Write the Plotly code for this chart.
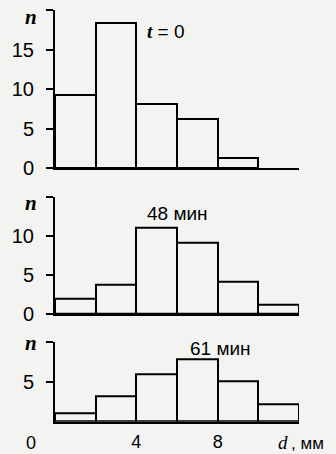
import plotly.graph_objects as go

# Data
bin_centers = [1, 3, 5, 7, 9, 11]
n_t0 = [9.2, 18.3, 8.1, 6.2, 1.3]
n_48 = [2.0, 3.8, 11.1, 9.1, 4.1, 1.25]
n_61 = [1.05, 3.2, 6.0, 7.9, 5.1, 2.2]
labels = ["t = 0", "48 мин", "61 мин"]
x_ticks = [4, 8]

BG = "#f3f3f1"
W, H = 336, 454

def py(px):
    return 1 - px / H

fig = go.Figure()
series = [n_t0, n_48, n_61]
for i, vals in enumerate(series):
    fig.add_trace(go.Bar(
        x=bin_centers[:len(vals)], y=vals, width=2,
        marker=dict(color=BG, line=dict(color="black", width=2)),
        xaxis="x" if i == 0 else f"x{i+1}",
        yaxis="y" if i == 0 else f"y{i+1}",
        showlegend=False, hoverinfo="skip",
    ))

xdom = [55 / W, 299 / W]
ydoms = [[py(168.3), py(10)], [py(314), py(196.7)], [py(421.7), py(342.3)]]
yranges = [20, 15, 10]
ytick_sets = [
    ([0, 5, 10, 15, 20], ["0", "5", "10", "15", ""]),
    ([0, 5, 10, 15], ["0", "5", "10", ""]),
    ([5, 10], ["5", ""]),
]
font = dict(family="Liberation Sans, Arial", size=20, color="black")
xfont = dict(family="Liberation Sans, Arial", size=18, color="black")

layout = dict(
    width=W, height=H, margin=dict(l=0, r=0, t=0, b=0, autoexpand=False),
    paper_bgcolor=BG, plot_bgcolor=BG, bargap=0, font=font,
)
for i in range(3):
    xk = "xaxis" if i == 0 else f"xaxis{i+1}"
    yk = "yaxis" if i == 0 else f"yaxis{i+1}"
    ya = "y" if i == 0 else f"y{i+1}"
    xa = "x" if i == 0 else f"x{i+1}"
    layout[xk] = dict(
        domain=xdom, range=[0, 12], anchor=ya, showline=True, linecolor="black",
        linewidth=2, showgrid=False, zeroline=False, ticks="",
        tickvals=x_ticks if i == 2 else [], showticklabels=(i == 2),
        tickfont=xfont, ticklabelstandoff=3, automargin=False, fixedrange=True,
    )
    layout[yk] = dict(
        domain=ydoms[i], range=[0, yranges[i]], anchor=xa, showline=True,
        linecolor="black", linewidth=2, showgrid=False, zeroline=False,
        ticks="outside", ticklen=7, tickwidth=2, tickcolor="black",
        tickvals=ytick_sets[i][0], ticktext=ytick_sets[i][1], automargin=False,
        ticklabelstandoff=8, fixedrange=True,
    )
fig.update_layout(**layout)

serif = "Liberation Serif, Times New Roman, serif"
sans = "Liberation Sans, Arial"

def A(x, y, text, f, xanchor="center"):
    return dict(x=x / W, y=py(y), xref="paper", yref="paper", xanchor=xanchor,
                yanchor="middle", showarrow=False, text=text, font=f)

ann = []
for ypx in [17, 203, 343]:
    ann.append(A(31, ypx, "<b><i>n</i></b>", dict(family=serif, size=21, color="black")))
ann.append(A(145, 32, f"<span style='font-family:{serif}'><b><i>t</i></b></span> = 0",
             dict(family=sans, size=19, color="black"), "left"))
ann.append(A(177, 213, labels[1], dict(family=sans, size=19, color="black")))
ann.append(A(220, 348, labels[2], dict(family=sans, size=19, color="black")))
ann.append(A(31, 443, "0", xfont))
ann.append(A(276, 442, "<i>d</i>", dict(family=serif, size=19, color="black"), "left"))
ann.append(A(289, 443, ", мм", dict(family=sans, size=17, color="black"), "left"))
fig.update_layout(annotations=ann)

fig.write_html("out.html", config={"displayModeBar": False},
               post_script="document.body.style.margin='0';document.body.style.background='%s';" % BG)
